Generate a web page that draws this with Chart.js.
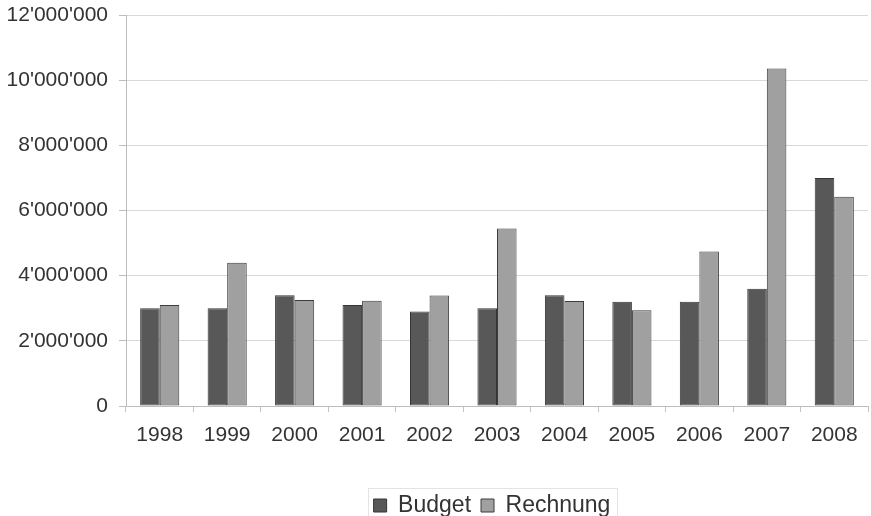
<!DOCTYPE html>
<html>
<head>
<meta charset="utf-8">
<script src="https://cdn.jsdelivr.net/npm/chart.js@4/dist/chart.umd.min.js"></script>
<style>
  html, body { margin: 0; padding: 0; background: #ffffff; }
  #wrap { width: 871px; height: 516px; }
</style>
</head>
<body>
<div id="wrap"><canvas id="c" width="871" height="516"></canvas></div>
<script>
const categories = ['1998','1999','2000','2001','2002','2003','2004','2005','2006','2007','2008'];
const budget    = [3000000, 3000000, 3400000, 3100000, 2900000, 3000000, 3400000, 3200000, 3200000, 3600000, 7000000];
const rechnung  = [3100000, 4400000, 3250000, 3230000, 3390000, 5450000, 3220000, 2940000, 4740000, 10360000, 6420000];
const seriesNames = ['Budget', 'Rechnung'];
const yTicks = { min: 0, max: 12000000, step: 2000000 };

function fmt(v) {
  return String(Math.round(v)).replace(/\B(?=(\d{3})+(?!\d))/g, "'");
}

const legendShift = {
  id: 'legendShift',
  afterLayout(chart) {
    const l = chart.legend;
    if (!l) return;
    l.left += 58; l.right += 58;
    l.top += 11; l.bottom += 11;
  },
  afterDraw(chart) {
    const l = chart.legend;
    if (!l || !l.legendHitBoxes.length) return;
    const hb = l.legendHitBoxes;
    const x0 = Math.min(...hb.map(h => h.left)) - 6;
    const x1 = Math.max(...hb.map(h => h.left + h.width)) + 6;
    const ctx = chart.ctx;
    ctx.save();
    ctx.strokeStyle = '#e4e4e4';
    ctx.lineWidth = 1;
    ctx.strokeRect(Math.round(x0) + 0.5, 488.5, Math.round(x1 - x0), 40);
    ctx.restore();
  }
};

new Chart(document.getElementById('c'), {
  type: 'bar',
  data: {
    labels: categories,
    datasets: [
      { label: seriesNames[0], data: budget, backgroundColor: '#585858', borderColor: '#353535', borderWidth: 1, borderSkipped: false },
      { label: seriesNames[1], data: rechnung, backgroundColor: '#a0a0a0', borderColor: '#3c3c3c', borderWidth: 1, borderSkipped: false }
    ]
  },
  options: {
    responsive: false,
    animation: false,
    devicePixelRatio: 1,
    layout: { padding: { top: 15, right: 3, left: 0, bottom: 0 } },
    datasets: { bar: { categoryPercentage: 0.58, barPercentage: 1.0 } },
    plugins: {
      legend: {
        position: 'bottom',
        labels: {
          boxWidth: 13, boxHeight: 13, padding: 10,
          color: '#333333',
          font: { family: '"Liberation Sans", Arial, sans-serif', size: 23 }
        }
      },
      tooltip: { enabled: false }
    },
    scales: {
      x: {
        grid: { display: true, drawOnChartArea: false, drawTicks: true, tickLength: 6, color: '#c4c4c4', offset: true },
        border: { display: true, color: '#bdbdbd', width: 1 },
        ticks: { color: '#333333', padding: 11, font: { family: '"Liberation Sans", Arial, sans-serif', size: 21 }, maxRotation: 0 },
        afterFit(scale) { scale.height = 67; scale.paddingLeft = 0; scale.paddingRight = 0; }
      },
      y: {
        min: yTicks.min, max: yTicks.max,
        grid: { color: '#d9d9d9', tickLength: 7, tickColor: '#bdbdbd' },
        border: { display: true, color: '#bdbdbd', width: 1 },
        ticks: {
          stepSize: yTicks.step, color: '#333333', padding: 11,
          font: { family: '"Liberation Sans", Arial, sans-serif', size: 21 },
          callback: (v) => fmt(v)
        },
        afterFit(scale) { scale.width = 126; scale.paddingTop = 0; scale.paddingBottom = 0; }
      }
    }
  },
  plugins: [legendShift]
});
</script>
</body>
</html>
